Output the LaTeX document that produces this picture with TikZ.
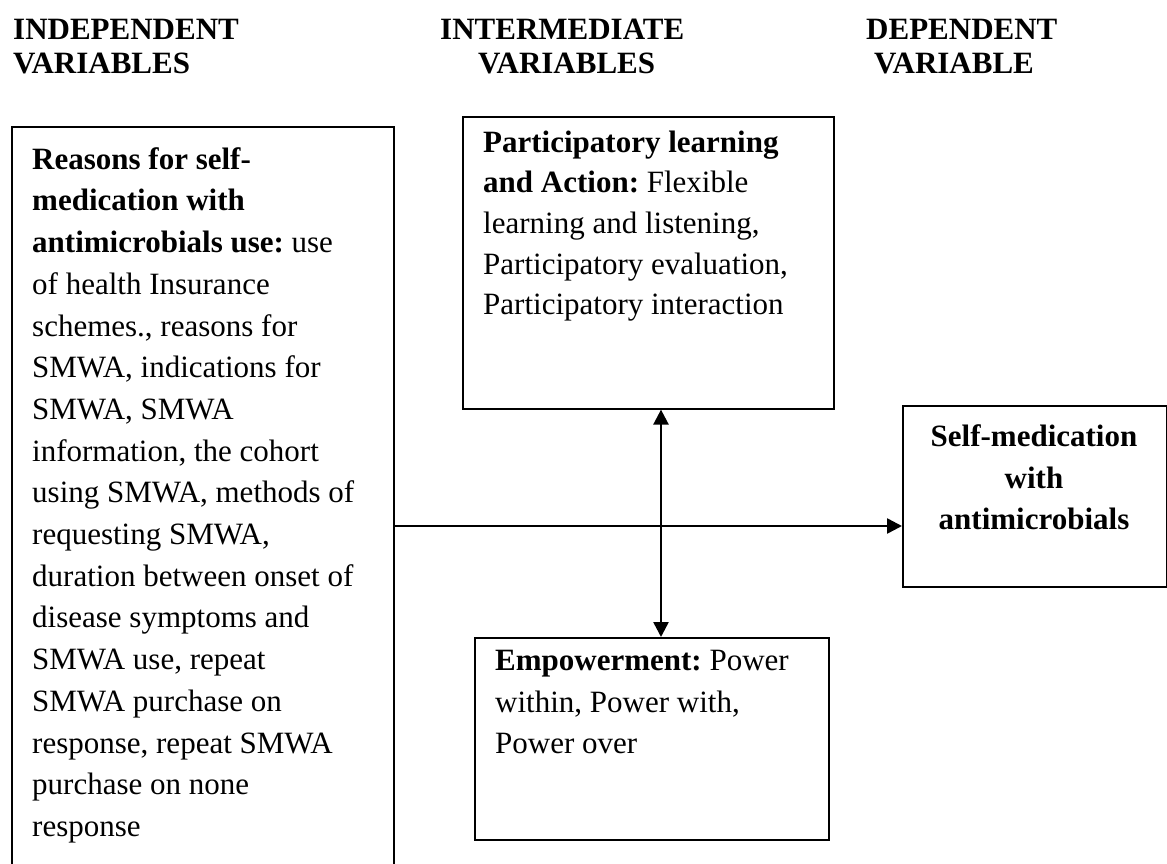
\documentclass[tikz,border=0pt]{standalone}
\usepackage{fontspec}
\setmainfont{Liberation Serif}
\usetikzlibrary{arrows.meta}
\frenchspacing
\begin{document}
\begin{tikzpicture}[x=1pt,y=-1pt,
  box/.style={draw, line width=1.6pt, inner sep=0pt, anchor=north west},
  txt/.style={inner sep=0pt, anchor=north west, align=left, font=\fontsize{31}{41.7}\selectfont\frenchspacing},
  htxt/.style={inner sep=0pt, anchor=north west, align=left, font=\fontsize{31}{34}\selectfont},
  ctxt/.style={inner sep=0pt, anchor=north, align=center, font=\fontsize{31}{41.7}\selectfont},
  conn/.style={line width=2.5pt, -{Triangle[length=15pt,width=15pt]}},
  dconn/.style={line width=2.5pt, {Triangle[length=15pt,width=15pt]}-{Triangle[length=15pt,width=15pt]}},
  ]
\useasboundingbox (0,0) rectangle (1167,863);
\clip (0,0) rectangle (1167,863);
\fill[white] (0,0) rectangle (1167,863);

% headers
\node[htxt] (h1) at (13,15) {\strut\textbf{INDEPENDENT}\\\textbf{VARIABLES}};
\node[htxt] (h2) at (440,15) {\strut\textbf{INTERMEDIATE}\\\hspace*{38pt}\textbf{VARIABLES}};
\node[htxt] (h3) at (866,15) {\strut\textbf{DEPENDENT}\\\hspace*{8pt}\textbf{VARIABLE}};

% boxes
\node[box, minimum width=382pt, minimum height=800pt] (lbox) at (11,126) {};
\node[box, minimum width=371pt, minimum height=292pt] (tbox) at (462,116) {};
\node[box, minimum width=354pt, minimum height=202pt] (ebox) at (474,637) {};
\node[box, minimum width=264pt, minimum height=181pt] (rbox) at (902,405) {};

% texts
\node[txt] (ltext) at (32,139.8) {\strut\textbf{Reasons for self-}\\
\textbf{medication with}\\
\textbf{antimicrobials use:} use\\
of health Insurance\\
schemes., reasons for\\
SMWA, indications for\\
SMWA, SMWA\\
information, the cohort\\
using SMWA, methods of\\
requesting SMWA,\\
duration between onset of\\
disease symptoms and\\
SMWA use, repeat\\
SMWA purchase on\\
response, repeat SMWA\\
purchase on none\\
response};

\node[txt, font=\fontsize{31}{40.7}\selectfont\frenchspacing] (ttext) at (483,123.5) {\strut\textbf{Participatory learning}\\
\textbf{and Action:} Flexible\\
learning and listening,\\
Participatory evaluation,\\
Participatory interaction};

\node[txt] (etext) at (495,641) {\strut\textbf{Empowerment:} Power\\
within, Power with,\\
Power over};

\node[ctxt] (rtext) at (1034,417) {\strut\textbf{Self-medication}\\
\textbf{with}\\
\textbf{antimicrobials}};

% connectors
\coordinate (hy) at (0,526);
\coordinate (vx) at (661,0);
\draw[conn] (lbox.east |- hy) -- (rbox.west |- hy);
\draw[dconn] (tbox.south -| vx) -- (ebox.north -| vx);
\end{tikzpicture}
\end{document}
